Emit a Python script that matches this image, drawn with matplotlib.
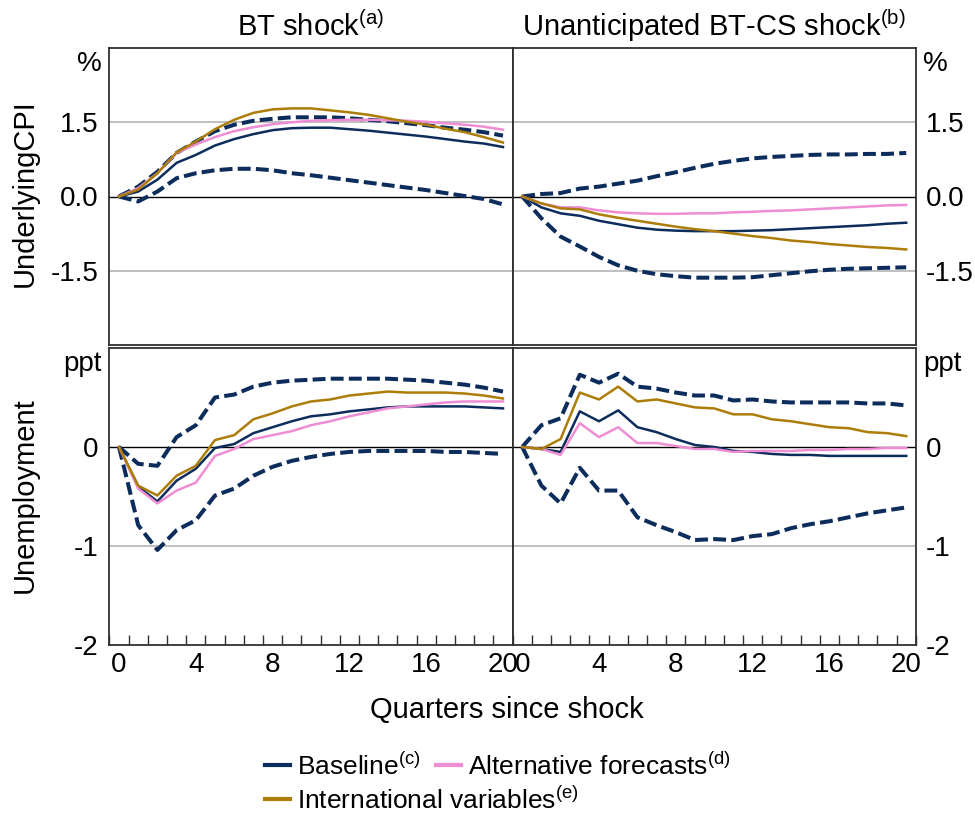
import matplotlib
matplotlib.use("Agg")
import matplotlib.pyplot as plt
from matplotlib.lines import Line2D
import numpy as np

plt.rcParams['font.family'] = ['Liberation Sans', 'DejaVu Sans']
plt.rcParams['mathtext.fontset'] = 'custom'
plt.rcParams['mathtext.rm'] = 'Liberation Sans'
plt.rcParams['mathtext.it'] = 'Liberation Sans:italic'
plt.rcParams['mathtext.bf'] = 'Liberation Sans:bold'
plt.rcParams['axes.unicode_minus'] = False

quarters = list(range(21))

# ---- Underlying CPI, BT shock ----
cpi_bt_base = [0, 0.10, 0.34, 0.68, 0.84, 1.03, 1.16, 1.26, 1.34, 1.38, 1.39, 1.39, 1.36, 1.33, 1.29, 1.25, 1.21, 1.16, 1.11, 1.07, 1.00]
cpi_bt_alt = [0, 0.17, 0.47, 0.88, 1.05, 1.20, 1.32, 1.40, 1.46, 1.50, 1.53, 1.54, 1.55, 1.55, 1.54, 1.53, 1.51, 1.48, 1.45, 1.41, 1.35]
cpi_bt_intl = [0, 0.14, 0.47, 0.89, 1.11, 1.36, 1.55, 1.69, 1.76, 1.78, 1.78, 1.74, 1.70, 1.65, 1.58, 1.51, 1.45, 1.37, 1.30, 1.20, 1.09]
cpi_bt_up = [0, 0.20, 0.50, 0.88, 1.11, 1.32, 1.45, 1.53, 1.57, 1.60, 1.60, 1.60, 1.58, 1.55, 1.52, 1.48, 1.44, 1.39, 1.35, 1.30, 1.23]
cpi_bt_lo = [0, -0.10, 0.10, 0.37, 0.47, 0.53, 0.56, 0.56, 0.53, 0.47, 0.43, 0.38, 0.33, 0.28, 0.23, 0.18, 0.13, 0.07, 0.01, -0.05, -0.16]

# ---- Underlying CPI, unanticipated BT-CS shock ----
cpi_cs_base = [0, -0.22, -0.34, -0.39, -0.49, -0.56, -0.63, -0.67, -0.69, -0.70, -0.70, -0.70, -0.69, -0.68, -0.66, -0.64, -0.62, -0.60, -0.58, -0.55, -0.53]
cpi_cs_alt = [0, -0.14, -0.22, -0.22, -0.28, -0.32, -0.34, -0.35, -0.35, -0.34, -0.34, -0.32, -0.31, -0.29, -0.28, -0.26, -0.24, -0.22, -0.20, -0.18, -0.17]
cpi_cs_intl = [0, -0.14, -0.24, -0.26, -0.36, -0.43, -0.49, -0.55, -0.61, -0.66, -0.70, -0.75, -0.80, -0.84, -0.89, -0.92, -0.96, -0.99, -1.02, -1.04, -1.07]
cpi_cs_up = [0, 0.05, 0.07, 0.16, 0.20, 0.26, 0.32, 0.41, 0.49, 0.58, 0.66, 0.72, 0.77, 0.80, 0.82, 0.84, 0.85, 0.85, 0.86, 0.86, 0.88]
cpi_cs_lo = [0, -0.44, -0.81, -1.01, -1.22, -1.39, -1.50, -1.57, -1.61, -1.64, -1.64, -1.64, -1.63, -1.59, -1.55, -1.51, -1.48, -1.46, -1.45, -1.44, -1.43]

# ---- Unemployment, BT shock ----
un_bt_base = [0, -0.40, -0.55, -0.34, -0.22, -0.01, 0.03, 0.14, 0.20, 0.26, 0.31, 0.33, 0.36, 0.38, 0.40, 0.41, 0.41, 0.41, 0.41, 0.40, 0.39]
un_bt_alt = [0, -0.42, -0.57, -0.44, -0.36, -0.09, -0.02, 0.08, 0.12, 0.16, 0.22, 0.26, 0.31, 0.35, 0.39, 0.41, 0.43, 0.45, 0.46, 0.46, 0.46]
un_bt_intl = [0, -0.39, -0.49, -0.29, -0.19, 0.07, 0.12, 0.28, 0.34, 0.41, 0.46, 0.48, 0.52, 0.54, 0.56, 0.55, 0.55, 0.55, 0.54, 0.52, 0.49]
un_bt_up = [0, -0.17, -0.19, 0.10, 0.22, 0.50, 0.53, 0.61, 0.65, 0.67, 0.68, 0.69, 0.69, 0.69, 0.69, 0.68, 0.67, 0.65, 0.63, 0.60, 0.56]
un_bt_lo = [0, -0.79, -1.04, -0.84, -0.74, -0.49, -0.42, -0.29, -0.20, -0.14, -0.10, -0.07, -0.05, -0.04, -0.04, -0.04, -0.04, -0.05, -0.05, -0.06, -0.07]

# ---- Unemployment, unanticipated BT-CS shock ----
un_cs_base = [0, -0.02, -0.05, 0.36, 0.26, 0.37, 0.20, 0.15, 0.08, 0.02, 0.00, -0.04, -0.05, -0.07, -0.08, -0.08, -0.09, -0.09, -0.09, -0.09, -0.09]
un_cs_alt = [0, -0.02, -0.08, 0.24, 0.10, 0.20, 0.04, 0.04, 0.01, -0.02, -0.02, -0.05, -0.04, -0.04, -0.04, -0.03, -0.03, -0.02, -0.02, -0.01, -0.01]
un_cs_intl = [0, -0.02, 0.08, 0.55, 0.48, 0.61, 0.46, 0.48, 0.44, 0.40, 0.39, 0.33, 0.33, 0.28, 0.26, 0.23, 0.20, 0.19, 0.15, 0.14, 0.11]
un_cs_up = [0, 0.22, 0.29, 0.73, 0.65, 0.74, 0.61, 0.59, 0.55, 0.52, 0.52, 0.47, 0.48, 0.46, 0.45, 0.45, 0.45, 0.45, 0.44, 0.44, 0.42]
un_cs_lo = [0, -0.39, -0.57, -0.21, -0.44, -0.44, -0.71, -0.79, -0.86, -0.94, -0.93, -0.94, -0.90, -0.88, -0.82, -0.78, -0.75, -0.71, -0.67, -0.64, -0.61]

col_titles = [r'BT shock$^{\mathrm{(a)}}$', r'Unanticipated BT-CS shock$^{\mathrm{(b)}}$']
row_labels = ['UnderlyingCPI', 'Unemployment']
unit_labels = ['%', 'ppt']
cpi_ticks = [-1.5, 0.0, 1.5]
cpi_ticklabels = ['-1.5', '0.0', '1.5']
un_ticks = [-2, -1, 0]
un_ticklabels = ['-2', '-1', '0']
x_ticks = [0, 4, 8, 12, 16, 20]
legend_labels = [r'Baseline$^{\mathrm{(c)}}$', r'Alternative forecasts$^{\mathrm{(d)}}$',
                 r'International variables$^{\mathrm{(e)}}$']
xlabel = 'Quarters since shock'

NAVY = '#0c2d5c'
PINK = '#ef8dd4'
GOLD = '#ac7d08'
GRID = '#b4b4b4'
FRAME = '#303030'
FS_TICK = 20
FS_TITLE = 21
FS_LABEL = 21
FS_LEG = 19

W, H = 975, 818
fig = plt.figure(figsize=(W / 100, H / 100), dpi=100)

def fx(px):
    return px / W

def fy(py):
    return 1 - py / H

lefts = [109.4, 512.6]
pw = 403.2
tops = [48, 348]
ph = 297

panels = {
    (0, 0): (cpi_bt_base, cpi_bt_alt, cpi_bt_intl, cpi_bt_up, cpi_bt_lo),
    (0, 1): (cpi_cs_base, cpi_cs_alt, cpi_cs_intl, cpi_cs_up, cpi_cs_lo),
    (1, 0): (un_bt_base, un_bt_alt, un_bt_intl, un_bt_up, un_bt_lo),
    (1, 1): (un_cs_base, un_cs_alt, un_cs_intl, un_cs_up, un_cs_lo),
}

pt = 72 / 100  # points per pixel

for (r, c), (base, alt, intl, up, lo) in panels.items():
    ax = fig.add_axes([fx(lefts[c]), fy(tops[r] + ph), fx(pw), ph / H])
    ax.set_xlim(-0.5, 20.5)
    if r == 0:
        ax.set_ylim(-3, 3)
        grid_vals = [-1.5, 1.5]
        ax.set_yticks(cpi_ticks)
        ax.set_yticklabels(cpi_ticklabels)
    else:
        ax.set_ylim(-2, 1)
        grid_vals = [-1]
        ax.set_yticks(un_ticks)
        ax.set_yticklabels(un_ticklabels)
    for g in grid_vals:
        ax.axhline(g, color=GRID, lw=1.2, zorder=1)
    ax.axhline(0, color='black', lw=1.0, zorder=1)

    ax.plot(quarters, up, color=NAVY, lw=2.9, dashes=(3.2, 1.3), zorder=3)
    ax.plot(quarters, lo, color=NAVY, lw=2.9, dashes=(3.2, 1.3), zorder=3)
    ax.plot(quarters, base, color=NAVY, lw=1.8, zorder=4)
    ax.plot(quarters, alt, color=PINK, lw=1.8, zorder=5)
    ax.plot(quarters, intl, color=GOLD, lw=1.8, zorder=6)

    for s in ax.spines.values():
        s.set_color(FRAME)
        s.set_linewidth(1.3)

    if c == 0:
        ax.tick_params(axis='y', which='both', length=0, pad=8, labelsize=FS_TICK,
                       left=True, right=False, labelleft=True, labelright=False)
        ax.annotate(unit_labels[r], xy=(0, 1), xycoords='axes fraction',
                    xytext=(-8 * pt, -16 * pt), textcoords='offset points',
                    ha='right', va='center', fontsize=FS_TICK)
    else:
        ax.yaxis.tick_right()
        ax.tick_params(axis='y', which='both', length=0, pad=7, labelsize=FS_TICK,
                       left=False, right=True, labelleft=False, labelright=True)
        ax.annotate(unit_labels[r], xy=(1, 1), xycoords='axes fraction',
                    xytext=(7 * pt, -16 * pt), textcoords='offset points',
                    ha='left', va='center', fontsize=FS_TICK)

    if r == 1:
        ax.set_xticks(x_ticks)
        ax.set_xticklabels([str(v) for v in x_ticks])
        ax.set_xticks(np.arange(-0.5, 21, 1.0), minor=True)
        ax.tick_params(axis='x', which='major', length=0, pad=5, labelsize=FS_TICK)
        ax.tick_params(axis='x', which='minor', direction='in', length=10 * pt,
                       width=1.0, color=FRAME)
    else:
        ax.set_xticks([])

    if r == 0:
        ax.set_title(col_titles[c], fontsize=FS_TITLE, pad=9)

fig.text(fx(25), fy(193), row_labels[0], rotation=90, ha='center', va='center', fontsize=FS_LABEL)
fig.text(fx(25), fy(495), row_labels[1], rotation=90, ha='center', va='center', fontsize=FS_LABEL)
fig.text(fx(507), fy(710), xlabel, ha='center', va='center', fontsize=FS_LABEL)

h_base = Line2D([], [], color=NAVY, lw=3)
h_alt = Line2D([], [], color=PINK, lw=3)
h_intl = Line2D([], [], color=GOLD, lw=3)

leg_kw = dict(frameon=False, fontsize=FS_LEG, handlelength=0.95, handletextpad=0.25,
              columnspacing=0.6, borderpad=0, borderaxespad=0, loc='center left')
leg1 = fig.legend([h_base, h_alt], legend_labels[:2], ncol=2,
                  bbox_to_anchor=(fx(265), fy(766)), **leg_kw)
leg2 = fig.legend([h_intl], legend_labels[2:], ncol=1,
                  bbox_to_anchor=(fx(265), fy(800)), **leg_kw)

fig.savefig('out.png', dpi=100)
